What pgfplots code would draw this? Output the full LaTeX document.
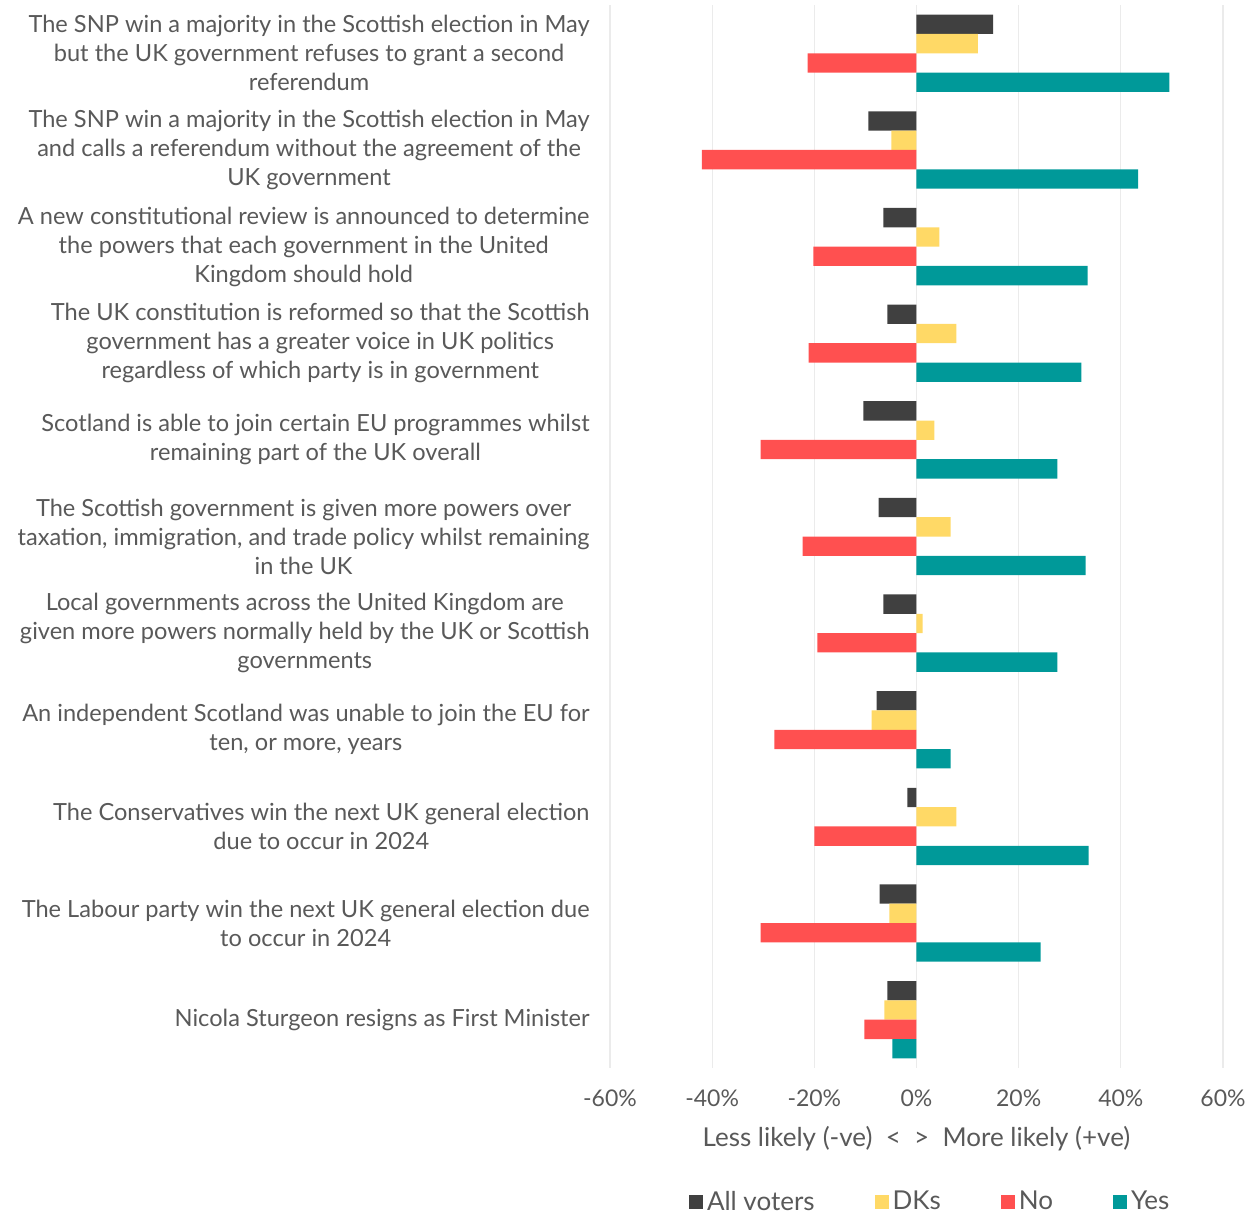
\documentclass[border=0pt]{standalone}
\usepackage{fontspec}
\setmainfont{Lato}
\usepackage{pgfplots}
\pgfplotsset{compat=1.18}
\definecolor{cAll}{HTML}{404040}
\definecolor{cDK}{HTML}{FFD966}
\definecolor{cNo}{HTML}{FF5050}
\definecolor{cYes}{HTML}{009999}
\definecolor{txt}{HTML}{595959}
\definecolor{gridc}{HTML}{EBEBEB}
\definecolor{zeroc}{HTML}{D0D0D0}
\begin{document}
\begin{tikzpicture}
\useasboundingbox (-305pt,-74pt) rectangle (324pt,534pt);
\begin{axis}[
  at={(0pt,0pt)}, anchor=south west,
  scale only axis, width=306.5pt, height=531.5pt,
  xbar, bar width=0.2,
  y dir=reverse,
  xmin=-60, xmax=60, ymin=-0.5, ymax=10.5,
  xtick={-60,-40,...,60},
  ytick={0,...,10},
  yticklabels={
    {The SNP win a majority in the Scottish election in May\\but the UK government refuses to grant a second\\referendum},
    {The SNP win a majority in the Scottish election in May\\and calls a referendum without the agreement of the\\UK government},
    {A new constitutional review is announced to determine\\the powers that each government in the United\\Kingdom should hold},
    {The UK constitution is reformed so that the Scottish\\government has a greater voice in UK politics\\regardless of which party is in government},
    {Scotland is able to join certain EU programmes whilst\\remaining part of the UK overall},
    {The Scottish government is given more powers over\\taxation, immigration, and trade policy whilst remaining\\in the UK},
    {Local governments across the United Kingdom are\\given more powers normally held by the UK or Scottish\\governments},
    {An independent Scotland was unable to join the EU for\\ten, or more, years},
    {The Conservatives win the next UK general election\\due to occur in 2024},
    {The Labour party win the next UK general election due\\to occur in 2024},
    {Nicola Sturgeon resigns as First Minister}},
  yticklabel style={align=center, inner sep=0pt, xshift=-10pt, text=txt, font=\fontsize{11.8}{14.5}\selectfont},
  /pgf/number format/assume math mode=true,
  xticklabel={\pgfmathprintnumber{\tick}\%},
  xticklabel style={text=txt, font=\fontsize{11.5}{13}\selectfont, yshift=-7.5pt},
  xlabel={Less likely (-ve) \ <\ \ >\ \ More likely (+ve)},
  xlabel style={text=txt, font=\fontsize{13}{15}\selectfont, yshift=-3pt},
  xmajorgrids=true, ymajorgrids=false,
  x grid style={color=gridc, line width=0.6pt},
  extra x ticks={0}, extra x tick labels={},
  extra x tick style={grid style={color=zeroc, line width=0.8pt}},
  axis line style={draw=none},
  xtick style={draw=none}, ytick style={draw=none},
  major tick length=0pt,
  legend columns=4,
  legend style={at={(0.524,-0.126)}, anchor=center, draw=none, fill=none,
    font=\fontsize{13}{15}\selectfont, text=txt,
    /tikz/every even column/.append style={column sep=28pt}},
  legend image code/.code={\fill[#1] (0pt,-3.5pt) rectangle (7pt,3.5pt);},
]
\addplot[fill=cAll, draw=none, bar shift=-0.3] coordinates {
 (15,0) (-9.4,1) (-6.5,2) (-5.7,3) (-10.4,4) (-7.4,5) (-6.5,6) (-7.8,7) (-1.8,8) (-7.2,9) (-5.7,10)};
\addlegendentry{All voters}
\addplot[fill=cDK, draw=none, bar shift=-0.1] coordinates {
 (12,0) (-4.9,1) (4.5,2) (7.8,3) (3.5,4) (6.7,5) (1.2,6) (-8.8,7) (7.8,8) (-5.3,9) (-6.3,10)};
\addlegendentry{DKs}
\addplot[fill=cNo, draw=none, bar shift=0.1] coordinates {
 (-21.3,0) (-42,1) (-20.2,2) (-21.1,3) (-30.5,4) (-22.3,5) (-19.4,6) (-27.8,7) (-20,8) (-30.5,9) (-10.2,10)};
\addlegendentry{No}
\addplot[fill=cYes, draw=none, bar shift=0.3] coordinates {
 (49.5,0) (43.4,1) (33.5,2) (32.3,3) (27.6,4) (33.1,5) (27.6,6) (6.7,7) (33.7,8) (24.3,9) (-4.7,10)};
\addlegendentry{Yes}
\end{axis}
\end{tikzpicture}
\end{document}
